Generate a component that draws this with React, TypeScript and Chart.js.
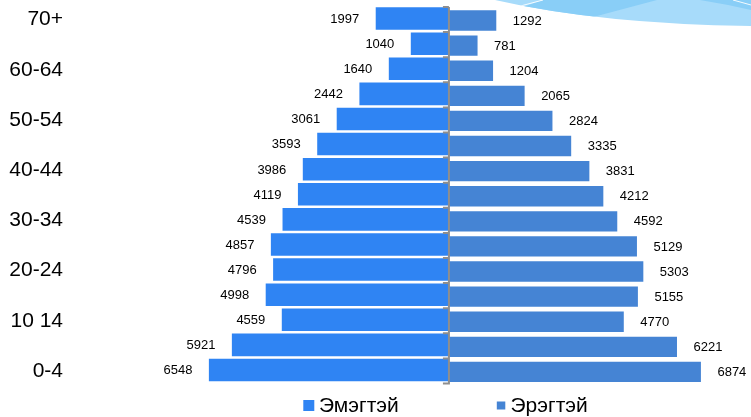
import React, { useEffect, useRef } from 'react';
import { Chart, registerables } from 'chart.js';

Chart.register(...registerables);

// Age groups, top to bottom
const AGE_GROUPS = ['70+', '65-69', '60-64', '55-59', '50-54', '45-49', '40-44', '35-39', '30-34', '25-29', '20-24', '15-19', '10 14', '5-9', '0-4'];
const FEMALE = [1997, 1040, 1640, 2442, 3061, 3593, 3986, 4119, 4539, 4857, 4796, 4998, 4559, 5921, 6548];
const MALE = [1292, 781, 1204, 2065, 2824, 3335, 3831, 4212, 4592, 5129, 5303, 5155, 4770, 6221, 6874];
const SERIES_NAMES = ['Эмэгтэй', 'Эрэгтэй'];

const X_MIN = -10200;
const X_MAX = 8240;

const FEMALE_COLOR = '#2F84F3';
const MALE_COLOR = '#4584D4';
const FONT = '"Liberation Sans", Arial, sans-serif';

const swooshPlugin = {
  id: 'swoosh',
  beforeDraw(chart: any) {
    const ctx = chart.ctx as CanvasRenderingContext2D;
    const w = chart.width;
    ctx.save();
    ctx.beginPath();
    ctx.moveTo(495, 0);
    ctx.quadraticCurveTo(600, 24, w, 26);
    ctx.lineTo(w, 0);
    ctx.closePath();
    ctx.fillStyle = '#A7DBFA';
    ctx.fill();
    ctx.clip();
    ctx.fillStyle = '#89CEF7';
    ctx.beginPath();
    ctx.moveTo(508, 12);
    ctx.lineTo(543, 0);
    ctx.lineTo(657, 0);
    ctx.lineTo(582, 20);
    ctx.closePath();
    ctx.fill();
    ctx.beginPath();
    ctx.moveTo(700, 0);
    ctx.lineTo(w, 0);
    ctx.lineTo(w, 10);
    ctx.quadraticCurveTo(725, 4, 700, 0);
    ctx.closePath();
    ctx.fill();
    ctx.strokeStyle = 'rgba(255,255,255,0.9)';
    ctx.lineWidth = 1;
    ctx.beginPath();
    ctx.moveTo(513, 8);
    ctx.lineTo(543, 0);
    ctx.moveTo(733, 0);
    ctx.lineTo(w, 5);
    ctx.stroke();
    ctx.restore();
  },
};

const axisPlugin = {
  id: 'centerAxis',
  afterDatasetsDraw(chart: any) {
    const ctx = chart.ctx as CanvasRenderingContext2D;
    const { top, bottom } = chart.chartArea;
    const x0 = chart.scales.x.getPixelForValue(0);
    const n = AGE_GROUPS.length;
    const step = (bottom - top) / n;
    ctx.save();
    ctx.strokeStyle = '#8E8E8E';
    ctx.lineWidth = 2;
    ctx.beginPath();
    ctx.moveTo(x0, top);
    ctx.lineTo(x0, bottom + 1);
    for (let i = 0; i <= n; i++) {
      const yb = top + i * step;
      ctx.moveTo(x0 - 6, yb);
      ctx.lineTo(x0, yb);
    }
    ctx.stroke();
    ctx.restore();
  },
};

const labelPlugin = {
  id: 'valueLabels',
  afterDatasetsDraw(chart: any) {
    const ctx = chart.ctx as CanvasRenderingContext2D;
    ctx.save();
    ctx.font = `13px ${FONT}`;
    ctx.fillStyle = '#000';
    ctx.textBaseline = 'middle';
    chart.data.datasets.forEach((ds: any, di: number) => {
      const meta = chart.getDatasetMeta(di);
      meta.data.forEach((el: any, i: number) => {
        const v = Math.abs(ds.data[i]);
        if (di === 0) {
          ctx.textAlign = 'right';
          ctx.fillText(String(v), el.x - 16.5, el.y + 0.8);
        } else {
          ctx.textAlign = 'left';
          ctx.fillText(String(v), el.x + 16.5, el.y + 0.5);
        }
      });
    });
    ctx.restore();
  },
};

const legendPlugin = {
  id: 'customLegend',
  afterDraw(chart: any) {
    const ctx = chart.ctx as CanvasRenderingContext2D;
    ctx.save();
    ctx.font = `21px ${FONT}`;
    ctx.fillStyle = FEMALE_COLOR;
    ctx.fillRect(303.3, 400, 11, 11);
    ctx.fillStyle = MALE_COLOR;
    ctx.fillRect(496.8, 401.5, 8.5, 8);
    ctx.fillStyle = '#000';
    ctx.textBaseline = 'middle';
    ctx.textAlign = 'left';
    ctx.fillText(SERIES_NAMES[0], 319, 406);
    ctx.fillText(SERIES_NAMES[1], 510.5, 406);
    ctx.restore();
  },
};

export default function App() {
  const ref = useRef<HTMLCanvasElement>(null);
  useEffect(() => {
    document.body.style.margin = '0';
    const chart = new Chart(ref.current!, {
      type: 'bar',
      data: {
        labels: AGE_GROUPS,
        datasets: [
          {
            label: SERIES_NAMES[0],
            data: FEMALE.map((v) => -v),
            backgroundColor: FEMALE_COLOR,
            categoryPercentage: 0.159,
            barPercentage: 11.3,
          },
          {
            label: SERIES_NAMES[1],
            data: MALE,
            backgroundColor: MALE_COLOR,
            categoryPercentage: 0.159,
            barPercentage: 10.2,
          },
        ],
      },
      options: {
        indexAxis: 'y',
        animation: false,
        responsive: true,
        maintainAspectRatio: false,
        layout: { padding: { top: 7, bottom: 33.5, left: 0, right: 0 } },
        scales: {
          x: { display: false, min: X_MIN, max: X_MAX },
          y: {
            position: 'left',
            grid: { display: false, drawTicks: false },
            border: { display: false },
            afterFit: (s: any) => {
              s.width = 75;
              s.paddingTop = 0;
              s.paddingBottom = 0;
            },
            ticks: {
              autoSkip: false,
              padding: 12,
              color: '#000',
              font: { size: 21, family: FONT },
              callback: (_v: any, i: number) => (i % 2 === 0 ? AGE_GROUPS[i] : ''),
            },
          },
        },
        plugins: {
          legend: { display: false },
          tooltip: { enabled: false },
        },
      },
      plugins: [swooshPlugin, axisPlugin, labelPlugin, legendPlugin],
    } as any);
    return () => chart.destroy();
  }, []);
  return (
    <div style={{ position: 'fixed', left: 0, top: 0, width: 751, height: 417 }}>
      <canvas ref={ref} />
    </div>
  );
}
